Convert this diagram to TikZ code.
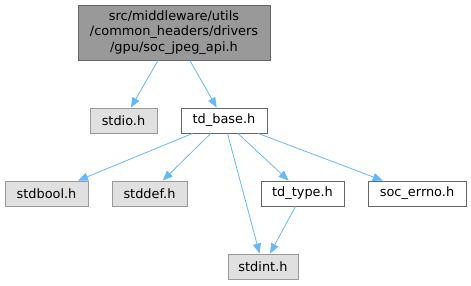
\documentclass[tikz,border=0pt]{standalone}
\usepackage{fontspec}
\setmainfont{DejaVu Sans}
\usetikzlibrary{arrows.meta}
\definecolor{edgeblue}{HTML}{63B8FF}
\definecolor{topfill}{HTML}{999999}
\definecolor{darkborder}{HTML}{666666}
\definecolor{lightfill}{HTML}{E0E0E0}
\definecolor{lightborder}{HTML}{999999}
\tikzset{
  base/.style={rectangle, inner sep=0pt, line width=0.9pt, font=\fontsize{12.9}{15.2}\selectfont, align=center},
  mainbox/.style={base, draw=darkborder, fill=topfill},
  sysbox/.style={base, draw=lightborder, fill=lightfill},
  localbox/.style={base, draw=darkborder, fill=white},
  dep/.style={draw=edgeblue, line width=0.8pt, -{Triangle[length=10pt,width=8pt]}}
}
\begin{document}
\begin{tikzpicture}[x=1pt,y=-1pt]
\useasboundingbox (0,0) rectangle (471,285);
\node[mainbox, minimum width=192pt, minimum height=55pt] (top) at (174,32.5) {src/middleware/utils\\/common\_headers/drivers\\/gpu/soc\_jpeg\_api.h};
\node[sysbox, minimum width=67pt, minimum height=25pt] (stdio) at (123.5,120.5) {stdio.h};
\node[localbox, minimum width=86pt, minimum height=25pt] (tdbase) at (224,120.5) {td\_base.h};
\node[sysbox, minimum width=83pt, minimum height=25pt] (stdbool) at (46.5,193.5) {stdbool.h};
\node[sysbox, minimum width=75pt, minimum height=25pt] (stddef) at (149.5,193.5) {stddef.h};
\node[localbox, minimum width=83pt, minimum height=25pt] (tdtype) at (302.5,193.5) {td\_type.h};
\node[localbox, minimum width=98pt, minimum height=25pt] (errno) at (417,193.5) {soc\_errno.h};
\node[sysbox, minimum width=70pt, minimum height=25pt] (stdint) at (263,266.5) {stdint.h};
\draw[dep] (top) -- (stdio);
\draw[dep] (top) -- (tdbase);
\draw[dep] (tdbase) -- (stdbool);
\draw[dep] (tdbase) -- (stddef);
\draw[dep] (tdbase) -- (stdint);
\draw[dep] (tdbase) -- (tdtype);
\draw[dep] (tdbase) -- (errno);
\draw[dep] (tdtype) -- (stdint);
\end{tikzpicture}
\end{document}
